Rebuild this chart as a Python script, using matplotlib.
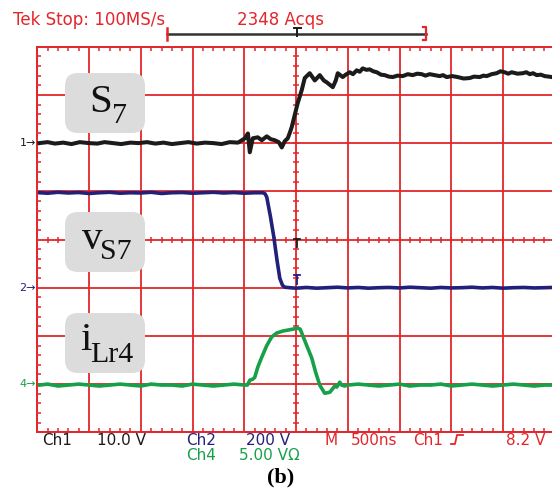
import numpy as np
import matplotlib
matplotlib.use("Agg")
import matplotlib.pyplot as plt
from matplotlib.patches import FancyBboxPatch

# ---- scope settings -------------------------------------------------------
time_per_div = 500.0      # ns/div
ch1_scale = 10.0          # V/div   (gate signal S7)
ch2_scale = 200.0         # V/div   (switch voltage vS7)
ch4_scale = 5.0           # A/div   (resonant current iLr4)
ch1_ref = 2.0             # ground marker positions, divisions from centre
ch2_ref = -1.0
ch4_ref = -3.0

# ---- captured traces ------------------------------------------------------
s7_t = [-2480, -2400, -2330, -2250, -2170, -2090, -2000, -1920, -1850, -1770,
        -1690, -1600, -1520, -1440, -1360, -1280, -1200, -1120, -1040, -960,
        -880, -800, -720, -640, -560, -494, -465, -447, -418, -370,
        -331, -283, -244, -206, -167, -138, -109, -80, -61, -42,
        -13, 16, 55, 84, 132, 181, 229, 268, 297, 355,
        384, 403,
        451, 480, 519, 550, 586, 615, 644, 680, 712, 745,
        780, 820, 857, 895, 934, 980, 1031, 1080, 1127, 1170,
        1214, 1250, 1291, 1340, 1388, 1420, 1455, 1510, 1562, 1620,
        1678, 1720, 1774, 1810, 1842, 1890, 1938, 1975, 2016, 2050,
        2083, 2140, 2190, 2225, 2258, 2290, 2325, 2365, 2403, 2440,
        2471]
s7_v = [0.0, 0.2, -0.1, 0.1, -0.2, 0.2, 0.0, -0.1, 0.2, 0.0,
        -0.2, 0.1, 0.0, 0.2, -0.1, 0.1, -0.2, 0.0, 0.2, -0.1,
        0.1, 0.0, -0.2, 0.2, 0.1, 1.0, 2.0, -1.9, 1.0, 1.2,
        0.6, 1.4, 0.8, 0.6, 0.2, -0.9, 0.4, 1.0, 2.1, 3.3,
        5.8, 8.3, 11.0, 13.5, 14.5, 13.0, 14.1, 13.0, 12.6, 11.6,
        13.0, 14.5,
        13.7, 14.2, 14.7, 14.3, 15.1, 14.8, 15.5, 15.2, 15.3, 14.9,
        14.7, 14.2, 14.1, 13.8, 13.7, 14.0, 13.9, 14.3, 14.1, 14.4,
        14.3, 14.0, 14.3, 14.1, 13.9, 14.1, 13.7, 13.9, 13.7, 13.4,
        13.5, 13.8, 13.7, 14.0, 13.9, 14.3, 14.5, 14.9, 14.7, 14.4,
        14.7, 14.4, 14.5, 14.7, 14.3, 14.5, 14.1, 14.2, 13.9, 13.8,
        13.7]

vs7_t = [-2476, -2400, -2300, -2200, -2100, -2000, -1900, -1800, -1700, -1600,
         -1500, -1400, -1300, -1200, -1100, -1000, -900, -800, -700, -600,
         -500, -400, -322, -300, -283, -247, -215, -184, -157, -131,
         -109, -60, 0, 100, 200, 300, 400, 500, 600, 700,
         800, 900, 1000, 1100, 1200, 1300, 1400, 1500, 1600, 1700,
         1800, 1900, 2000, 2100, 2200, 2300, 2400, 2480]
vs7_v = [394, 392, 396, 393, 395, 391, 394, 396, 392, 394,
         393, 396, 391, 394, 395, 392, 394, 396, 393, 395,
         392, 394, 394, 390, 376, 294, 211, 114, 39, 10,
         2, 0, -2, 1, -2, 0, 2, -1, 1, -2,
         0, 1, -1, 2, 0, -2, 1, -1, 0, 2,
         -1, 1, -2, 0, 1, -1, 0, 1]

ilr4_t = [-2476, -2400, -2300, -2200, -2100, -2000, -1900, -1800, -1700, -1600,
          -1500, -1400, -1300, -1200, -1100, -1000, -900, -800, -700, -600,
          -500, -470, -447, -420, -399, -370, -331, -283, -235, -186,
          -129, -80, -32, 16, 40, 55, 103, 152, 190, 229,
          277, 326, 374, 394, 422, 440, 470, 500, 600, 700,
          800, 900, 1000, 1100, 1200, 1300, 1400, 1500, 1600, 1700,
          1800, 1900, 2000, 2100, 2200, 2300, 2400, 2480]
ilr4_v = [-0.1, 0.0, -0.2, -0.1, 0.0, -0.1, -0.2, -0.1, 0.0, -0.1,
          -0.2, 0.0, -0.1, -0.1, -0.2, 0.0, -0.1, -0.2, -0.1, 0.0,
          -0.1, -0.1, 0.4, 0.5, 0.7, 1.75, 2.8, 4.0, 4.9, 5.3,
          5.5, 5.6, 5.7, 5.8, 5.7, 5.3, 4.0, 2.7, 1.2, -0.1,
          -0.95, -0.85, -0.2, -0.3, 0.2, -0.1, -0.2, -0.1, 0.0, -0.1,
          -0.2, -0.1, 0.0, -0.2, -0.1, -0.1, 0.0, -0.2, -0.1, 0.0,
          -0.1, -0.2, -0.1, 0.0, -0.1, -0.2, -0.1, -0.1]

# ---- colours ---------------------------------------------------------------
RED = "#e2262b"
BLACK = "#1c1a1a"
NAVY = "#23207a"
GREEN = "#17a04a"
BOXGREY = "#dcdcdc"

W, H = 552, 492
fig = plt.figure(figsize=(W / 100, H / 100), dpi=100)
fig.patch.set_facecolor("white")

# graticule: 10 x 8 divisions
gx0, gy0, dx, dy = 37.3, 46.7, 51.75, 48.2
ax = fig.add_axes([gx0 / W, (H - (gy0 + 8 * dy)) / H, 10 * dx / W, 8 * dy / H])
ax.set_xlim(-5 * time_per_div, 5 * time_per_div)
ax.set_ylim(-4, 4)
ax.set_xticks(np.arange(-5, 6) * time_per_div)
ax.set_yticks(np.arange(-4, 5))
ax.set_xticks(np.arange(-25, 26) * time_per_div / 5, minor=True)
ax.set_yticks(np.arange(-20, 21) * 0.2, minor=True)
ax.tick_params(which="major", length=0, labelbottom=False, labelleft=False)
ax.tick_params(which="minor", direction="in", length=2.6, width=1.1, color=RED,
               top=True, bottom=True, left=True, right=False)
ax.grid(which="major", color=RED, lw=1.3)
for sp in ax.spines.values():
    sp.set_color(RED)
    sp.set_linewidth(1.4)

# tick marks along the centre cross
xt = np.arange(-25, 26) * time_per_div / 5
yt = np.arange(-20, 21) * 0.2
ax.plot(xt, np.zeros_like(xt), ls="none", marker="|", ms=4.8, mew=1.1, color=RED, zorder=2)
ax.plot(np.zeros_like(yt), yt, ls="none", marker="_", ms=4.8, mew=1.1, color=RED, zorder=2)

# traces
ax.plot(s7_t, ch1_ref + np.array(s7_v) / ch1_scale, color=BLACK, lw=2.9, zorder=4)
ax.plot(vs7_t, ch2_ref + np.array(vs7_v) / ch2_scale, color=NAVY, lw=2.6, zorder=4)
ax.plot(ilr4_t, ch4_ref + np.array(ilr4_v) / ch4_scale, color=GREEN, lw=2.6, zorder=4)

# ---- overlay in pixel coordinates for annotations -------------------------
ov = fig.add_axes([0, 0, 1, 1])
ov.set_xlim(0, W)
ov.set_ylim(H, 0)
ov.axis("off")
ov.patch.set_visible(False)

mono = dict(family="DejaVu Sans")
ov.text(13, 25, "Tek Stop: 100MS/s", color=RED, fontsize=12, va="baseline", **mono)
ov.text(237, 25, "2348 Acqs", color=RED, fontsize=12, va="baseline", **mono)

# acquisition window bracket and trigger marker
ov.plot([167, 426], [33.5, 33.5], color="#333333", lw=1.8)
ov.plot([167, 167], [28, 40], color=RED, lw=1.8)
ov.plot([423, 426, 426, 423], [27, 27, 40, 40], color=RED, lw=1.6)
ov.plot([293.5, 300.5], [27.5, 27.5], color=BLACK, lw=1.4)
ov.plot([297, 297], [27.5, 36], color=BLACK, lw=1.4)

# trigger level markers on the centre line
ov.plot([293.5, 300], [238.5, 238.5], color=BLACK, lw=1.3)
ov.plot([296.7, 296.7], [238.5, 247], color=BLACK, lw=1.3)
ov.plot([293.5, 300], [275, 275], color=NAVY, lw=1.3)
ov.plot([296.7, 296.7], [275, 284], color=NAVY, lw=1.3)

# channel ground markers
for lbl, ref, col in (("1", ch1_ref, BLACK), ("2", ch2_ref, NAVY), ("4", ch4_ref, GREEN)):
    ypix = gy0 + (4 - ref) * dy
    ov.text(36, ypix, lbl + "\u2192", color=col, fontsize=8, ha="right", va="center", **mono)

# signal name tags
serif = dict(family="Liberation Serif")
tags = [((65, 73), (89, 112, "S"), (112, 123, "7")),
        ((65, 212), (82, 249, "v"), (100, 259, "S7")),
        ((65, 313), (80, 350, "i"), (90, 362, "Lr4"))]
for (bx, by), (mx, my, mtxt), (sx, sy, stxt) in tags:
    ov.add_patch(FancyBboxPatch((bx, by), 80, 60,
                                boxstyle="round,pad=0,rounding_size=13",
                                fc=BOXGREY, ec="none"))
    ov.text(mx, my, mtxt, fontsize=29.5, color="#111111", va="baseline", **serif)
    ov.text(sx, sy, stxt, fontsize=21.5, color="#111111", va="baseline", **serif)

# readout line
row1, row2 = 445, 460
ov.text(42, row1, "Ch1", color=BLACK, fontsize=11, va="baseline", **mono)
ov.text(97, row1, "10.0 V", color=BLACK, fontsize=11, va="baseline", **mono)
ov.text(186, row1, "Ch2", color=NAVY, fontsize=11, va="baseline", **mono)
ov.text(246, row1, "200 V", color=NAVY, fontsize=11, va="baseline", **mono)
ov.text(324, row1, "M", color=RED, fontsize=11, va="baseline", **mono)
ov.text(351, row1, "500ns", color=RED, fontsize=11, va="baseline", **mono)
ov.text(413, row1, "Ch1", color=RED, fontsize=11, va="baseline", **mono)
ov.plot([451, 455, 457, 463], [444, 444, 435, 435], color=RED, lw=1.3)
ov.text(506, row1, "8.2 V", color=RED, fontsize=11, va="baseline", **mono)
ov.text(186, row2, "Ch4", color=GREEN, fontsize=11, va="baseline", **mono)
ov.text(239, row2, "5.00 V\u03a9", color=GREEN, fontsize=11, va="baseline", **mono)

ov.text(281, 482, "(b)", fontsize=16, fontweight="bold", ha="center", va="baseline",
        color="black", **serif)

fig.savefig("out.png", dpi=100)
